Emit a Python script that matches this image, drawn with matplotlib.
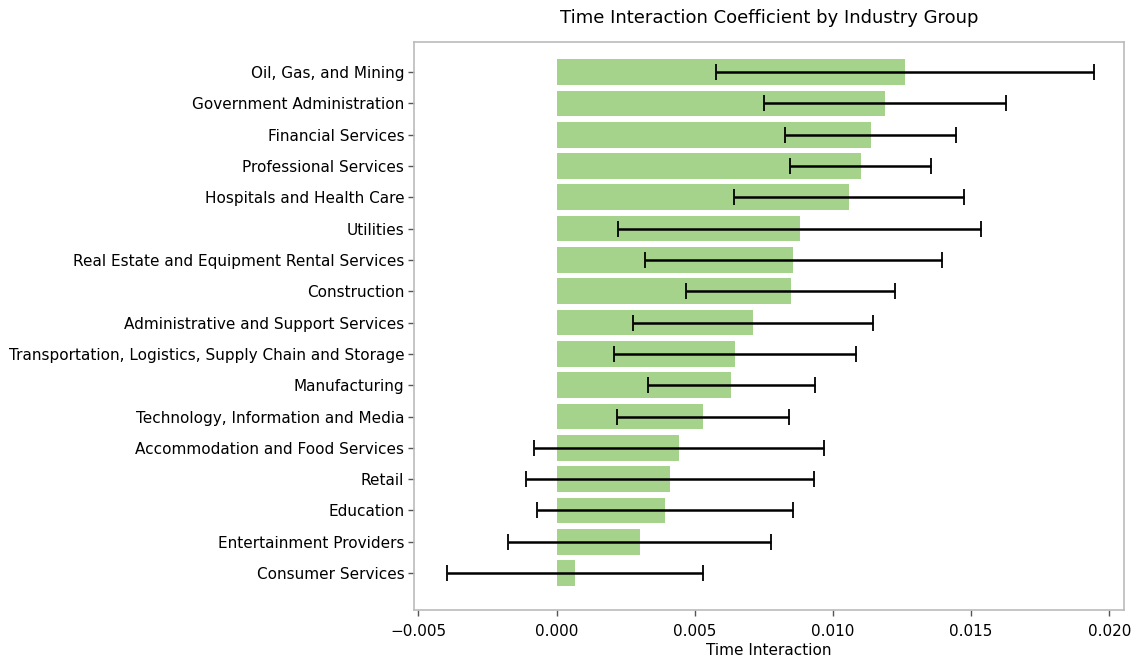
import matplotlib
matplotlib.use("Agg")
import matplotlib.pyplot as plt
import numpy as np

industries = [
    "Oil, Gas, and Mining",
    "Government Administration",
    "Financial Services",
    "Professional Services",
    "Hospitals and Health Care",
    "Utilities",
    "Real Estate and Equipment Rental Services",
    "Construction",
    "Administrative and Support Services",
    "Transportation, Logistics, Supply Chain and Storage",
    "Manufacturing",
    "Technology, Information and Media",
    "Accommodation and Food Services",
    "Retail",
    "Education",
    "Entertainment Providers",
    "Consumer Services",
]
coef = [0.01260, 0.01187, 0.01136, 0.01100, 0.01057, 0.00879, 0.00857,
        0.00847, 0.00712, 0.00646, 0.00632, 0.00531, 0.00443, 0.00411,
        0.00392, 0.00301, 0.00066]
ci_half = [0.00684, 0.00438, 0.00309, 0.00256, 0.00416, 0.00658, 0.00537,
           0.00379, 0.00434, 0.00439, 0.00302, 0.00311, 0.00525, 0.00520,
           0.00462, 0.00476, 0.00464]
xticks = [-0.005, 0.000, 0.005, 0.010, 0.015, 0.020]

plt.rcParams["font.family"] = ["DejaVu Sans"]

fig = plt.figure(figsize=(11.33, 6.62), dpi=100)
ax = fig.add_axes([0.3654, 0.0785, 0.6266, 0.8581])

n = len(industries)
ypos = np.arange(n)[::-1]
ax.barh(ypos, coef, height=0.82, color="#a6d38c", zorder=1)
ax.errorbar(coef, ypos, xerr=ci_half, fmt="none", ecolor="black",
            elinewidth=1.8, capsize=6, capthick=1.3, zorder=2)

ax.set_yticks(ypos)
ax.set_yticklabels(industries, fontsize=11)
ax.set_xticks(xticks)
ax.set_xticklabels([f"{t:.3f}".replace("-", "\u2212") for t in xticks], fontsize=11)
ax.set_xlim(-0.00516, 0.02053)
ax.set_ylim(-1.18, n - 1 + 0.96)

for s in ax.spines.values():
    s.set_color("#bbbbbb")
    s.set_linewidth(1.2)
ax.tick_params(axis="y", length=4, width=1, color="#555555", pad=3)
ax.tick_params(axis="x", length=4, width=1, color="#555555", pad=6)

ax.set_xlabel("Time Interaction", fontsize=11, labelpad=3)
ax.set_title("Time Interaction Coefficient by Industry Group", fontsize=13, pad=14)

fig.savefig("out.png", dpi=100)
